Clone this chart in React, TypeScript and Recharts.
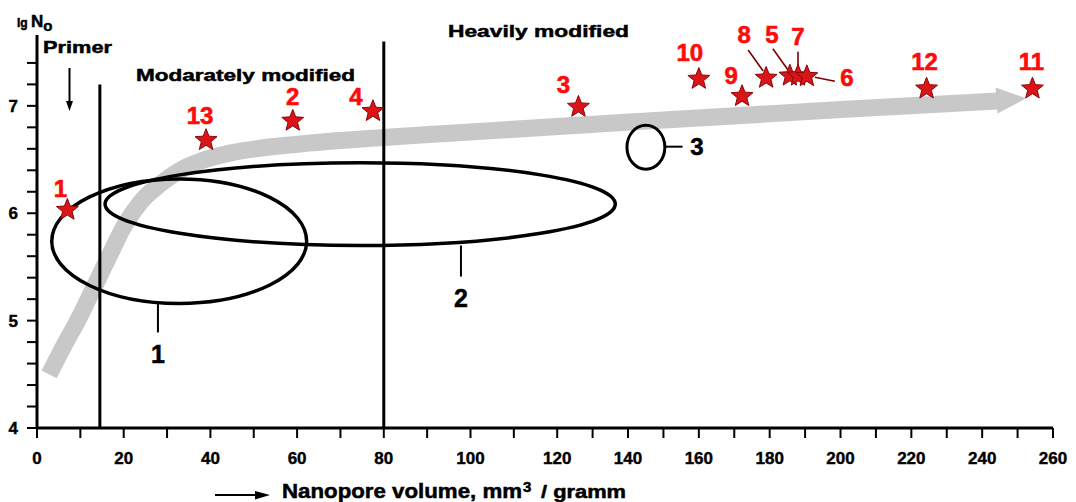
import React from "react";
import { ComposedChart, Line, Scatter, XAxis, YAxis, ReferenceLine, ReferenceArea } from "recharts";

const FONT = '"Liberation Sans", Arial, Helvetica, sans-serif';

// the source axis is drawn unevenly: 0..120 takes about half of its length
const X_BREAKS = [0, 120, 260];
const X_SHARES = [0, 0.512, 1];
const X_TICKS = [0, 10, 20, 30, 40, 50, 60, 70, 80, 90, 100, 110, 120, 130, 140, 150, 160, 170, 180, 190, 200, 210, 220, 230, 240, 250, 260];
const Y_TICKS = [4, 4.2, 4.4, 4.6, 4.8, 5, 5.2, 5.4, 5.6, 5.8, 6, 6.2, 6.4, 6.6, 6.8, 7, 7.2, 7.4];

// samples (red stars)
const SAMPLE_IDS = ["1", "13", "2", "4", "3", "10", "9", "8", "5", "7", "6", "12", "11"];
const SAMPLE_VOLUME = [7, 39, 59, 77.5, 126, 160, 172.2, 179, 185.7, 188, 190.5, 224.3, 254.2];
const SAMPLE_LGN = [6.03, 6.68, 6.86, 6.95, 6.99, 7.25, 7.09, 7.26, 7.28, 7.28, 7.275, 7.16, 7.16];

// grey trend arrow
const TREND_VOLUME = [2.8, 6, 9.5, 12.9, 16.4, 20.1, 23.8, 28.4, 33, 38.8, 44.5, 60.7, 79.9, 95.3, 140.6, 202.6, 244.5];
const TREND_LGN = [4.5, 4.75, 5.01, 5.29, 5.58, 5.88, 6.1, 6.27, 6.4, 6.5, 6.56, 6.645, 6.705, 6.745, 6.85, 6.97, 7.045];
const ARROW_TIP = [{ x: 252.5, y: 7.07 }];

// clusters 1..3, bounding boxes
const CLUSTER_IDS = ["1", "2", "3"];
const CLUSTER_X1 = [3.4, 15.7, 139.7];
const CLUSTER_X2 = [62.2, 136.4, 150.4];
const CLUSTER_Y1 = [5.16, 5.7, 6.41];
const CLUSTER_Y2 = [6.32, 6.47, 6.82];
const CLUSTER_TAG_FROM = [{ x: 27.9, y: 5.16 }, { x: 97.8, y: 5.7 }, { x: 150.4, y: 6.62 }];
const CLUSTER_TAG_TO = [{ x: 27.9, y: 4.89 }, { x: 97.8, y: 5.41 }, { x: 155.4, y: 6.62 }];

// zone borders
const ZONE_X = [14.5, 80];
const ZONE_TOP = [7.2, 7.6];

// label placement around each star, px relative to the star
const LABEL_POS: Record<string, [number, number]> = {
  "1": [-7, -22], "13": [-6, -25], "2": [0, -24], "4": [-17, -15], "3": [-15, -22],
  "10": [-9, -27], "9": [-11, -21], "8": [-22, -43], "5": [-18, -41], "7": [0, -39],
  "6": [40, 1], "12": [-2, -27], "11": [-1, -27],
};
const LEADERS: Record<string, [number, number, number, number]> = {
  "8": [-18, -28, -3, -7], "5": [-17, -27, -2, -6], "7": [0, -24, 0, -6], "6": [28, 5, 8, 1],
};

function pieceScale(dom: number[] = [0, 260], rng: number[] = [0, 1]): any {
  const share = (v: number) => {
    let i = 0;
    while (i < X_BREAKS.length - 2 && v > X_BREAKS[i + 1]) i++;
    const t = (v - X_BREAKS[i]) / (X_BREAKS[i + 1] - X_BREAKS[i]);
    return X_SHARES[i] + t * (X_SHARES[i + 1] - X_SHARES[i]);
  };
  const f: any = (v: any) => rng[0] + share(Number(v)) * (rng[1] - rng[0]);
  f.domain = (d?: any[]) => {
    if (d === undefined) return dom.slice();
    dom = d.map(Number);
    return f;
  };
  f.range = (r?: any[]) => {
    if (r === undefined) return rng.slice();
    rng = r.map(Number);
    return f;
  };
  f.copy = () => pieceScale(dom.slice(), rng.slice());
  f.ticks = () => X_TICKS;
  f.invert = (px: number) => {
    const s = (px - rng[0]) / (rng[1] - rng[0]);
    let i = 0;
    while (i < X_SHARES.length - 2 && s > X_SHARES[i + 1]) i++;
    const t = (s - X_SHARES[i]) / (X_SHARES[i + 1] - X_SHARES[i]);
    return X_BREAKS[i] + t * (X_BREAKS[i + 1] - X_BREAKS[i]);
  };
  return f;
}
const xScale = pieceScale();

const samples = SAMPLE_IDS.map((id, i) => ({ id, x: SAMPLE_VOLUME[i], y: SAMPLE_LGN[i] }));
const trend = TREND_VOLUME.map((x, i) => ({ x, y: TREND_LGN[i] }));

function starPoints(cx: number, cy: number, R: number, r: number) {
  const pts: string[] = [];
  for (let i = 0; i < 10; i++) {
    const a = -Math.PI / 2 + (i * Math.PI) / 5;
    const rad = i % 2 === 0 ? R : r;
    pts.push(`${cx + rad * Math.cos(a)},${cy + rad * Math.sin(a)}`);
  }
  return pts.join(" ");
}

const StarShape = (props: any) => {
  const { cx, cy, payload } = props;
  if (cx == null || cy == null) return null;
  const id = payload.id;
  const [dx, dy] = LABEL_POS[id] || [0, -25];
  const lead = LEADERS[id];
  return (
    <g>
      {lead && (
        <line x1={cx + lead[0]} y1={cy + lead[1]} x2={cx + lead[2]} y2={cy + lead[3]} stroke="#7a0000" strokeWidth={1.6} />
      )}
      <polygon points={starPoints(cx, cy, 11.5, 5)} fill="#d9151a" stroke="#8a0606" strokeWidth={1} />
      <text
        x={cx + dx}
        y={cy + dy + 8.5}
        textAnchor="middle"
        fill="#ff0a0a"
        stroke="#ff0a0a"
        strokeWidth={0.6}
        fontSize={24}
        fontWeight={700}
        fontFamily={FONT}
      >
        {id}
      </text>
    </g>
  );
};

const ArrowHead = (props: any) => {
  const { cx, cy } = props;
  if (cx == null || cy == null) return null;
  return (
    <polygon
      points={`${cx},${cy} ${cx - 30},${cy - 13} ${cx - 30},${cy + 13}`}
      fill="#c8c8c8"
      transform={`rotate(-4 ${cx} ${cy})`}
    />
  );
};

const ellipseShape = (sw: number) => (props: any) => {
  const { x, y, width, height } = props;
  if (x == null || width == null) return null;
  return (
    <ellipse cx={x + width / 2} cy={y + height / 2} rx={Math.abs(width) / 2} ry={Math.abs(height) / 2} fill="none" stroke="#000" strokeWidth={sw} />
  );
};

const bold = { fontFamily: FONT, fontWeight: 700, fill: "#000", stroke: "#000", strokeWidth: 0.5 } as const;
const tickStyle = { fill: "#000", stroke: "#000", strokeWidth: 0.4, fontSize: 17, fontWeight: 700, fontFamily: FONT };

export default function App() {
  return (
    <div style={{ position: "absolute", left: 0, top: 0, width: 1076, height: 502, background: "#fff" }}>
      <ComposedChart width={1076} height={502} margin={{ top: 35, right: 23, bottom: 34, left: 0 }}>
        <XAxis
          type="number"
          dataKey="x"
          domain={[0, 260]}
          scale={xScale}
          ticks={X_TICKS}
          interval={0}
          tickFormatter={(v: number) => (v % 20 === 0 ? String(v) : "")}
          height={40}
          tickSize={10}
          tickMargin={14}
          axisLine={{ stroke: "#000", strokeWidth: 3 }}
          tickLine={{ stroke: "#000", strokeWidth: 2 }}
          tick={tickStyle}
        />
        <YAxis
          type="number"
          dataKey="y"
          domain={[4, 7.66]}
          ticks={Y_TICKS}
          interval={0}
          tickFormatter={(v: number) => (Math.abs(v - Math.round(v)) < 1e-6 ? String(Math.round(v)) : "")}
          width={37}
          tickSize={10}
          tickMargin={9}
          axisLine={{ stroke: "#000", strokeWidth: 3 }}
          tickLine={{ stroke: "#000", strokeWidth: 2 }}
          tick={tickStyle}
        />
        <Line
          data={trend}
          dataKey="y"
          type="monotone"
          stroke="#c8c8c8"
          strokeWidth={17}
          dot={false}
          activeDot={false}
          isAnimationActive={false}
        />
        <Scatter data={ARROW_TIP} shape={ArrowHead} isAnimationActive={false} />
        {CLUSTER_IDS.map((id, i) => (
          <ReferenceArea
            key={"c" + id}
            x1={CLUSTER_X1[i]}
            x2={CLUSTER_X2[i]}
            y1={CLUSTER_Y1[i]}
            y2={CLUSTER_Y2[i]}
            ifOverflow="visible"
            shape={ellipseShape(id === "3" ? 3 : 3.5)}
            zIndex={450}
          />
        ))}
        {CLUSTER_IDS.map((id, i) => (
          <ReferenceLine
            key={"t" + id}
            segment={[CLUSTER_TAG_FROM[i], CLUSTER_TAG_TO[i]]}
            stroke="#000"
            strokeWidth={2}
            ifOverflow="visible"
            zIndex={450}
          />
        ))}
        {ZONE_X.map((x, i) => (
          <ReferenceLine
            key={"z" + i}
            segment={[{ x, y: 4 }, { x, y: ZONE_TOP[i] }]}
            stroke="#000"
            strokeWidth={3}
            ifOverflow="visible"
            zIndex={450}
          />
        ))}
        <Scatter data={samples} shape={StarShape} isAnimationActive={false} />
      </ComposedChart>

      <svg width={1076} height={502} style={{ position: "absolute", left: 0, top: 0, pointerEvents: "none" }}>
        <text x={17} y={27} {...bold}>
          <tspan fontSize={12}>lg </tspan>
          <tspan fontSize={17}>N</tspan>
          <tspan fontSize={15} dy={4}>o</tspan>
        </text>
        <text x={43} y={53} fontSize={17} textLength={69} lengthAdjust="spacingAndGlyphs" {...bold}>Primer</text>
        <line x1={69.5} y1={68} x2={69.5} y2={102} stroke="#000" strokeWidth={2} />
        <polygon points="66,101 73,101 69.5,111" fill="#000" />
        <text x={136} y={81} fontSize={17} textLength={219} lengthAdjust="spacingAndGlyphs" {...bold}>Modarately modified</text>
        <text x={448} y={37} fontSize={17} textLength={181} lengthAdjust="spacingAndGlyphs" {...bold}>Heavily modified</text>

        <text x={158} y={363} fontSize={25} textAnchor="middle" {...bold}>{CLUSTER_IDS[0]}</text>
        <text x={461} y={307} fontSize={25} textAnchor="middle" {...bold}>{CLUSTER_IDS[1]}</text>
        <text x={697} y={155} fontSize={24} textAnchor="middle" {...bold}>{CLUSTER_IDS[2]}</text>

        <line x1={215} y1={495} x2={258} y2={495} stroke="#000" strokeWidth={2} />
        <polygon points="255,491 255,499.5 270,495" fill="#000" />
        <text x={282} y={498} fontSize={20} textLength={240} lengthAdjust="spacingAndGlyphs" {...bold}>Nanopore volume, mm</text>
        <text x={523} y={492} fontSize={15} {...bold}>3</text>
        <text x={541} y={498} fontSize={18} textLength={85} lengthAdjust="spacingAndGlyphs" {...bold}>/ gramm</text>
      </svg>
    </div>
  );
}
